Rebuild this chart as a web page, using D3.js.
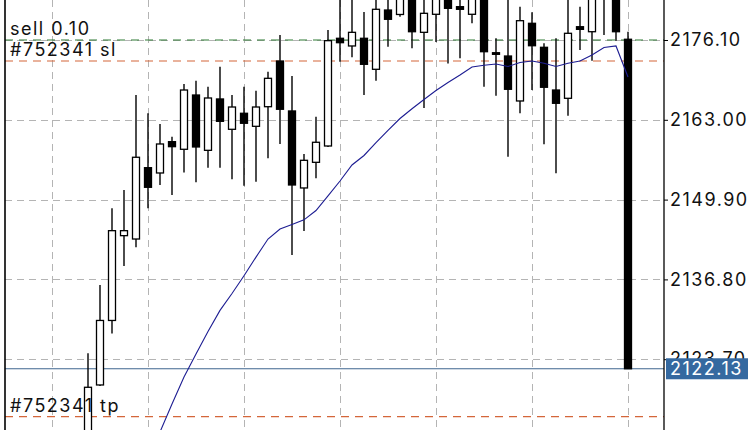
<!DOCTYPE html>
<html>
<head>
<meta charset="utf-8">
<script src="https://cdn.jsdelivr.net/npm/d3@7"></script>
<style>
  html, body { margin: 0; padding: 0; background: #fff; }
  svg { display: block; }
  text { font-family: Inter, "Liberation Sans", sans-serif; }
</style>
</head>
<body>
<svg id="chart" width="750" height="430"></svg>
<script>
// ---- data ----
const opens  = [2109.62,2119.47,2130.06,2143.98,2143.43,2155.14,2154.27,2159.41,2158.16,2167.07,
                2157.99,2166.42,2161.44,2164.07,2161.93,2165.15,2172.65,2164.45,2151.81,2156.02,
                2158.70,2176.38,2175.12,2176.38,2171.29,2181.02,2180.29,2183.49,2177.36,2180.32,
                2183.16,2181.57,2180.32,2183.16,2174.01,2173.47,2166.09,2178.84,2174.90,2167.89,
                2166.53,2178.28,2177.46,2185.95,2183.49,2176.22];
const highs  = [2124.67,2135.88,2148.47,2151.48,2167.07,2164.07,2162.31,2160.23,2168.88,2169.42,
                2168.43,2171.72,2167.07,2168.43,2167.78,2170.90,2176.92,2170.19,2157.39,2163.51,
                2177.74,2183.49,2183.16,2180.70,2182.99,2183.49,2183.98,2184.31,2183.16,2183.98,
                2183.98,2183.49,2183.98,2183.98,2176.38,2183.16,2181.57,2180.65,2175.56,2176.38,
                2183.16,2181.57,2183.98,2186.77,2184.31,2177.46];
const lows   = [2107.16,2119.30,2127.92,2139.00,2142.07,2148.47,2152.30,2150.66,2154.35,2152.74,
                2155.14,2155.14,2153.23,2152.19,2152.84,2156.68,2159.03,2140.81,2144.75,2153.40,
                2158.54,2172.54,2173.26,2167.07,2169.42,2175.00,2179.92,2174.74,2164.94,2175.77,
                2172.24,2173.09,2178.84,2168.43,2166.96,2156.94,2164.07,2167.89,2158.98,2154.22,
                2163.67,2174.46,2172.70,2176.92,2175.93,2122.10];
const closes = [2119.09,2130.06,2144.80,2144.80,2156.85,2151.92,2159.03,2158.59,2167.89,2158.54,
                2166.58,2162.75,2165.10,2162.43,2165.10,2169.81,2164.73,2152.30,2156.35,2159.31,
                2175.99,2175.66,2177.36,2172.11,2181.14,2179.50,2183.16,2177.46,2180.48,2182.99,
                2181.30,2181.14,2183.16,2174.18,2173.75,2168.01,2179.27,2175.16,2168.34,2165.71,
                2177.20,2177.85,2183.16,2183.65,2177.46,2122.13];
// moving average, starting at candle index 4
const maStart = 4;
const maValues = [2102.89,2107.32,2111.75,2116.35,2120.78,2124.56,2128.25,2131.71,2134.49,2137.41,
                  2140.46,2143.43,2145.08,2145.81,2146.57,2148.11,2150.52,2152.95,2155.58,2157.14,
                  2159.27,2161.28,2163.21,2164.82,2166.33,2167.81,2169.12,2170.35,2171.67,2171.95,
                  2172.16,2171.75,2172.41,2172.65,2172.28,2171.75,2172.28,2172.65,2173.64,2174.87,
                  2175.12,2170.03];
const priceTicks = [2176.10, 2163.00, 2149.90, 2136.80, 2123.70];
const timeGridIdx = [-3, 5, 13, 21, 29, 37, 45];
const sellPrice = 2176.10;
const slPrice = 2172.65;
const tpPrice = 2114.27;
const lastPrice = 2122.13;
const sellLabel = "sell 0.10";
const slLabel = "#752341 sl";
const tpLabel = "#752341 tp";

// ---- layout ----
const W = 750, H = 430;
const plotLeft = 5, plotRight = 664;
const fontSize = 18, tracking = "1.5px";
const svg = d3.select("#chart");

const candles = opens.map((o, i) => ({i, o, h: highs[i], l: lows[i], c: closes[i]}));
const x = d3.scaleLinear().domain([0, candles.length - 1]).range([88, 628]);
const y = d3.scaleLinear().domain([2123.70, 2176.10]).range([359.2, 40]);

const gridColor = "#b4b4b4";

// horizontal grid
svg.append("g").selectAll("line").data(priceTicks).join("line")
  .attr("x1", plotLeft).attr("x2", plotRight)
  .attr("y1", d => Math.round(y(d)) + 0.5).attr("y2", d => Math.round(y(d)) + 0.5)
  .attr("stroke", gridColor).attr("stroke-width", 1).attr("stroke-dasharray", "7,5");

// vertical grid
svg.append("g").selectAll("line").data(timeGridIdx).join("line")
  .attr("x1", d => Math.round(x(d)) + 0.5).attr("x2", d => Math.round(x(d)) + 0.5)
  .attr("y1", 0).attr("y2", H)
  .attr("stroke", gridColor).attr("stroke-width", 1).attr("stroke-dasharray", "7,5");

// trade levels
const levels = [
  {p: sellPrice, color: "#2f7a35"},
  {p: slPrice, color: "#d4663a"},
  {p: tpPrice, color: "#d4663a"}
];
svg.append("g").selectAll("line").data(levels).join("line")
  .attr("x1", plotLeft).attr("x2", plotRight)
  .attr("y1", d => y(d.p)).attr("y2", d => y(d.p))
  .attr("stroke", d => d.color).attr("stroke-width", 1.2).attr("stroke-dasharray", "8,6");

// current price line
svg.append("line")
  .attr("x1", plotLeft).attr("x2", plotRight)
  .attr("y1", y(lastPrice)).attr("y2", y(lastPrice))
  .attr("stroke", "#3f668f").attr("stroke-width", 1.2);

// candles
const bodyW = 7;
const cg = svg.append("g");
cg.selectAll("line.wick").data(candles).join("line").attr("class", "wick")
  .attr("x1", d => x(d.i)).attr("x2", d => x(d.i))
  .attr("y1", d => y(d.h)).attr("y2", d => y(d.l))
  .attr("stroke", "#000").attr("stroke-width", 1.4);
cg.selectAll("rect.body").data(candles).join("rect").attr("class", "body")
  .attr("x", d => x(d.i) - bodyW / 2)
  .attr("y", d => y(Math.max(d.o, d.c)))
  .attr("width", bodyW)
  .attr("height", d => Math.max(1, Math.abs(y(d.o) - y(d.c))))
  .attr("fill", d => d.c >= d.o ? "#fff" : "#000")
  .attr("stroke", "#000").attr("stroke-width", 1.3);

// moving average
const maData = maValues.map((v, k) => ({i: k + maStart, v}));
svg.append("path").datum(maData)
  .attr("fill", "none").attr("stroke", "#1d1d92").attr("stroke-width", 1.1)
  .attr("d", d3.line().x(d => x(d.i)).y(d => y(d.v)));

// borders
svg.append("line").attr("x1", plotLeft).attr("x2", plotLeft).attr("y1", 0).attr("y2", H)
  .attr("stroke", "#000").attr("stroke-width", 1.6);

// price axis
const axis = d3.axisRight(y).tickValues(priceTicks).tickSize(4).tickPadding(2)
  .tickFormat(d3.format(".2f"));
const ag = svg.append("g").attr("transform", `translate(${plotRight},0)`).call(axis);
ag.select(".domain").remove();
ag.selectAll(".tick line").attr("stroke", "#000");
ag.selectAll(".tick text").attr("fill", "#111").attr("font-size", fontSize)
  .attr("letter-spacing", tracking).attr("font-family", "Inter, sans-serif");
svg.append("line").attr("x1", plotRight).attr("x2", plotRight).attr("y1", 0).attr("y2", H)
  .attr("stroke", "#000").attr("stroke-width", 1.3);

// last price tag (covers the lowest tick label, as in the original)
const ly = y(lastPrice);
svg.append("rect").attr("x", plotRight + 2).attr("y", ly - 10.5)
  .attr("width", 82).attr("height", 21).attr("fill", "#3569a0");
svg.append("text").attr("x", plotRight + 6).attr("y", ly).attr("dy", "0.36em")
  .attr("fill", "#fff").attr("font-size", fontSize).attr("letter-spacing", tracking)
  .text(d3.format(".2f")(lastPrice));

// level labels
const lbl = [
  {t: sellLabel, p: sellPrice},
  {t: slLabel, p: slPrice},
  {t: tpLabel, p: tpPrice}
];
svg.append("g").selectAll("text").data(lbl).join("text")
  .attr("x", 10).attr("y", d => y(d.p) - 5)
  .attr("fill", "#111").attr("font-size", fontSize).attr("letter-spacing", tracking)
  .text(d => d.t);
</script>
</body>
</html>
